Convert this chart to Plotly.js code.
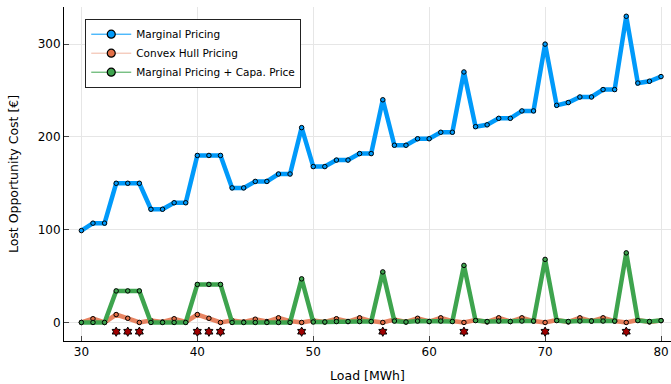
<!DOCTYPE html>
<html>
<head>
<meta charset="utf-8">
<script src="https://cdn.plot.ly/plotly-3.0.1.min.js"></script>
<style>html,body{margin:0;padding:0;background:#fff;}#chart{width:671px;height:384px;}</style>
</head>
<body>
<div id="chart"></div>
<script>
// ---- data ----
const load = [30,31,32,33,34,35,36,37,38,39,40,41,42,43,44,45,46,47,48,49,50,51,52,53,54,55,56,57,58,59,60,61,62,63,64,65,66,67,68,69,70,71,72,73,74,75,76,77,78,79,80];
const marginalPricing = [99,107,107,150,150,150,122,122,129,129,180,180,180,145,145,152,152,160,160,210,168,168,175,175,182,182,240,191,191,198,198,205,205,270,211,213,220,220,228,228,300,234,237,243,243,251,251,330,258,260,265];
const convexHullPricing = [0,4,0,8.5,4.5,0,2,0.5,4,0.5,8.5,4.5,0,2,0.5,3.5,1,5,1.5,0,2,0.5,4,1,5,1.5,0,3,0.5,4.5,1,5,1.5,0,2.5,0.5,5,1,5,1.5,0,2.5,0.5,5,1.5,5,1.5,0,2.5,0.5,2];
const marginalPlusCapa = [0,0,0,34,34,34,0,0,0,0,41,41,41,0,0,0,0,0,0,47,0.5,0.5,1,1,1,1,54.5,1.5,0.5,1.5,1,1.5,1,61.5,2,1,1.5,1,1.5,1.5,68,2,1,1.5,1.5,1.5,1.5,75,2,1,2];
const starLoads = [33,34,35,40,41,42,49,56,63,70,77];
const starValues = [-10,-10,-10,-10,-10,-10,-10,-10,-10,-10,-10];
const seriesNames = ['Marginal Pricing','Convex Hull Pricing','Marginal Pricing + Capa. Price'];
const xTicks = [30,40,50,60,70,80];
const yTicks = [0,100,200,300];

const colors = ['#009AFA','#E36F47','#3EA44E'];
const lineColors = ['#009AFA','rgba(227,111,71,0.85)','#3EA44E'];
const legendLineColors = ['#009AFA','rgba(227,111,71,0.5)','#3EA44E'];
const ys = [marginalPricing, convexHullPricing, marginalPlusCapa];

const traces = [];
ys.forEach((y,i)=>{
  traces.push({
    x: load, y: y, type:'scatter', mode:'lines+markers', showlegend:false,
    line:{color:lineColors[i], width:4.5},
    marker:{color:colors[i], size:4.5, line:{color:'#000', width:1}}
  });
});
ys.forEach((y,i)=>{
  traces.push({
    x:[null], y:[null], type:'scatter', mode:'lines+markers', name:seriesNames[i],
    line:{color:legendLineColors[i], width:1},
    marker:{color:colors[i], size:8, line:{color:'#000', width:1.2}}
  });
});
traces.push({
  x: starLoads, y: starValues, type:'scatter', mode:'markers', showlegend:false,
  marker:{symbol:'hexagram', size:7, color:'#A00000', line:{color:'#000', width:1}}
});

const layout = {
  width:671, height:384,
  margin:{l:64, r:0, t:7, b:43},
  paper_bgcolor:'#fff', plot_bgcolor:'#fff',
  font:{family:'DejaVu Sans', size:12, color:'#000'},
  showlegend:true,
  legend:{x:0.035, y:0.965, xanchor:'left', yanchor:'top', bgcolor:'#fff',
    bordercolor:'#222', borderwidth:1, font:{family:'DejaVu Sans', size:10.5, color:'#000'},
    tracegroupgap:0, itemwidth:40},
  xaxis:{range:[28.5,80.86], tickvals:xTicks, ticktext:xTicks.map(String),
    showgrid:true, gridcolor:'#e6e6e6', gridwidth:1, zeroline:false,
    showline:true, linecolor:'#000', linewidth:1, mirror:false,
    ticks:'inside', ticklen:5, tickcolor:'#444',
    tickfont:{family:'DejaVu Sans', size:12, color:'#000'},
    title:{text:'Load [MWh]', font:{family:'DejaVu Sans', size:12.5, color:'#000'}, standoff:12}},
  yaxis:{range:[-20,340], tickvals:yTicks, ticktext:yTicks.map(String),
    showgrid:true, gridcolor:'#e6e6e6', gridwidth:1, zeroline:false,
    showline:true, linecolor:'#000', linewidth:1, mirror:false,
    ticks:'inside', ticklen:5, tickcolor:'#444',
    tickfont:{family:'DejaVu Sans', size:12, color:'#000'},
    title:{text:'Lost Opportunity Cost [€]', font:{family:'DejaVu Sans', size:12.5, color:'#000'}, standoff:16}}
};
Plotly.newPlot('chart', traces, layout, {displayModeBar:false, staticPlot:true});
</script>
</body>
</html>
